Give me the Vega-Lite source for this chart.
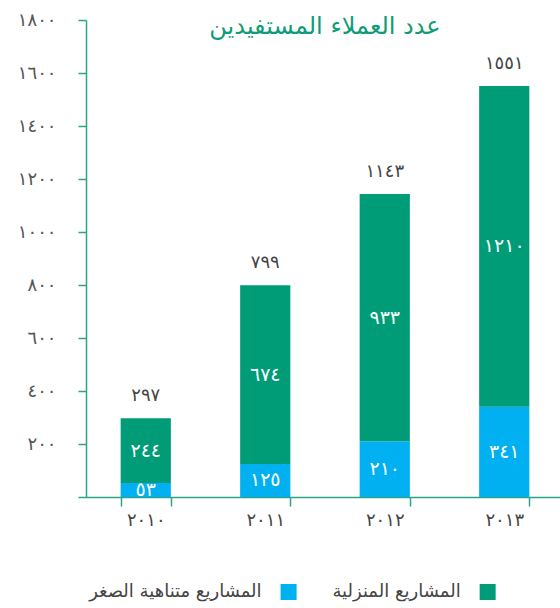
{
  "$schema": "https://vega.github.io/schema/vega-lite/v6.json",
  "padding": {"left": 17, "top": 11, "right": 0, "bottom": 0},
  "config": {"view": {"stroke": null}, "font": "DejaVu Sans"},
  "datasets": {
    "segments": [
      {"year": "٢٠١٠", "series": "المشاريع متناهية الصغر", "order": 1, "value": 53, "label": "٥٣"},
      {"year": "٢٠١٠", "series": "المشاريع المنزلية", "order": 2, "value": 244, "label": "٢٤٤"},
      {"year": "٢٠١١", "series": "المشاريع متناهية الصغر", "order": 1, "value": 125, "label": "١٢٥"},
      {"year": "٢٠١١", "series": "المشاريع المنزلية", "order": 2, "value": 674, "label": "٦٧٤"},
      {"year": "٢٠١٢", "series": "المشاريع متناهية الصغر", "order": 1, "value": 210, "label": "٢١٠"},
      {"year": "٢٠١٢", "series": "المشاريع المنزلية", "order": 2, "value": 933, "label": "٩٣٣"},
      {"year": "٢٠١٣", "series": "المشاريع متناهية الصغر", "order": 1, "value": 341, "label": "٣٤١"},
      {"year": "٢٠١٣", "series": "المشاريع المنزلية", "order": 2, "value": 1210, "label": "١٢١٠"}
    ],
    "totals": [
      {"year": "٢٠١٠", "total": 297, "label": "٢٩٧"},
      {"year": "٢٠١١", "total": 799, "label": "٧٩٩"},
      {"year": "٢٠١٢", "total": 1143, "label": "١١٤٣"},
      {"year": "٢٠١٣", "total": 1551, "label": "١٥٥١"}
    ],
    "legend": [
      {"series": "المشاريع متناهية الصغر", "order": 1},
      {"series": "المشاريع المنزلية", "order": 2}
    ]
  },
  "spacing": 53,
  "vconcat": [
    {
      "width": 478,
      "height": 477,
      "title": {"text": "عدد العملاء المستفيدين", "color": "#0e9c78", "fontSize": 24, "fontWeight": "normal", "anchor": "middle", "offset": -28},
      "layer": [
        {
          "data": {"name": "segments"},
          "transform": [
            {"stack": "value", "groupby": ["year"], "sort": [{"field": "order", "order": "ascending"}], "as": ["v0", "v1"]}
          ],
          "layer": [
            {
              "mark": {"type": "bar"},
              "encoding": {
                "x": {
                  "field": "year", "type": "ordinal",
                  "scale": {"paddingInner": 0.58, "paddingOuter": 0.29},
                  "axis": {"title": null, "labelAngle": 0, "tickBand": "extent", "tickSize": 9, "labelPadding": 5, "labelFontSize": 18, "labelColor": "#444", "domainColor": "#2da486", "tickColor": "#2da486", "domainWidth": 1.5, "tickWidth": 1.5}
                },
                "y": {
                  "field": "v1", "type": "quantitative",
                  "scale": {"domain": [0, 1800]},
                  "axis": {
                    "title": null, "grid": false,
                    "values": [0, 200, 400, 600, 800, 1000, 1200, 1400, 1600, 1800],
                    "format": "d",
                    "labelExpr": "datum.value == 0 ? '' : replace(replace(replace(replace(replace(replace(datum.label, regexp('0','g'), '٠'), regexp('1','g'), '١'), regexp('2','g'), '٢'), regexp('4','g'), '٤'), regexp('6','g'), '٦'), regexp('8','g'), '٨')",
                    "domainColor": "#2da486", "tickColor": "#2da486", "domainWidth": 1.5, "tickWidth": 1.5,
                    "tickSize": 8, "labelPadding": 22, "labelFontSize": 18, "labelColor": "#555"
                  }
                },
                "y2": {"field": "v0"},
                "color": {
                  "field": "series", "type": "nominal",
                  "scale": {"domain": ["المشاريع المنزلية", "المشاريع متناهية الصغر"], "range": ["#009b77", "#00b0f0"]},
                  "legend": null
                }
              }
            },
            {
              "transform": [
                {"fold": ["v0", "v1"], "as": ["edge", "pos"]},
                {"aggregate": [{"op": "mean", "field": "pos", "as": "mid"}], "groupby": ["year", "label"]}
              ],
              "mark": {"type": "text", "color": "white", "fontSize": 19},
              "encoding": {
                "x": {"field": "year", "type": "ordinal"},
                "y": {"field": "mid", "type": "quantitative"},
                "text": {"field": "label"}
              }
            }
          ]
        },
        {
          "data": {"name": "totals"},
          "mark": {"type": "text", "color": "#444", "fontSize": 18, "baseline": "bottom", "dy": -13},
          "encoding": {
            "x": {"field": "year", "type": "ordinal"},
            "y": {"field": "total", "type": "quantitative"},
            "text": {"field": "label"}
          }
        }
      ]
    },
    {
      "width": 471,
      "height": 20,
      "data": {"name": "legend"},
      "layer": [
        {
          "mark": {"type": "square", "size": 256, "opacity": 1, "filled": true},
          "encoding": {
            "x": {"field": "series", "type": "nominal", "sort": ["المشاريع متناهية الصغر", "المشاريع المنزلية"], "scale": {"type": "point", "padding": 0.683, "align": 0.745}, "axis": null},
            "color": {"field": "series", "type": "nominal", "legend": null}
          }
        },
        {
          "mark": {"type": "text", "align": "right", "dx": -27, "fontSize": 18, "color": "#444"},
          "encoding": {
            "x": {"field": "series", "type": "nominal", "sort": ["المشاريع متناهية الصغر", "المشاريع المنزلية"], "scale": {"type": "point", "padding": 0.683, "align": 0.745}, "axis": null},
            "text": {"field": "series"}
          }
        }
      ]
    }
  ]
}
